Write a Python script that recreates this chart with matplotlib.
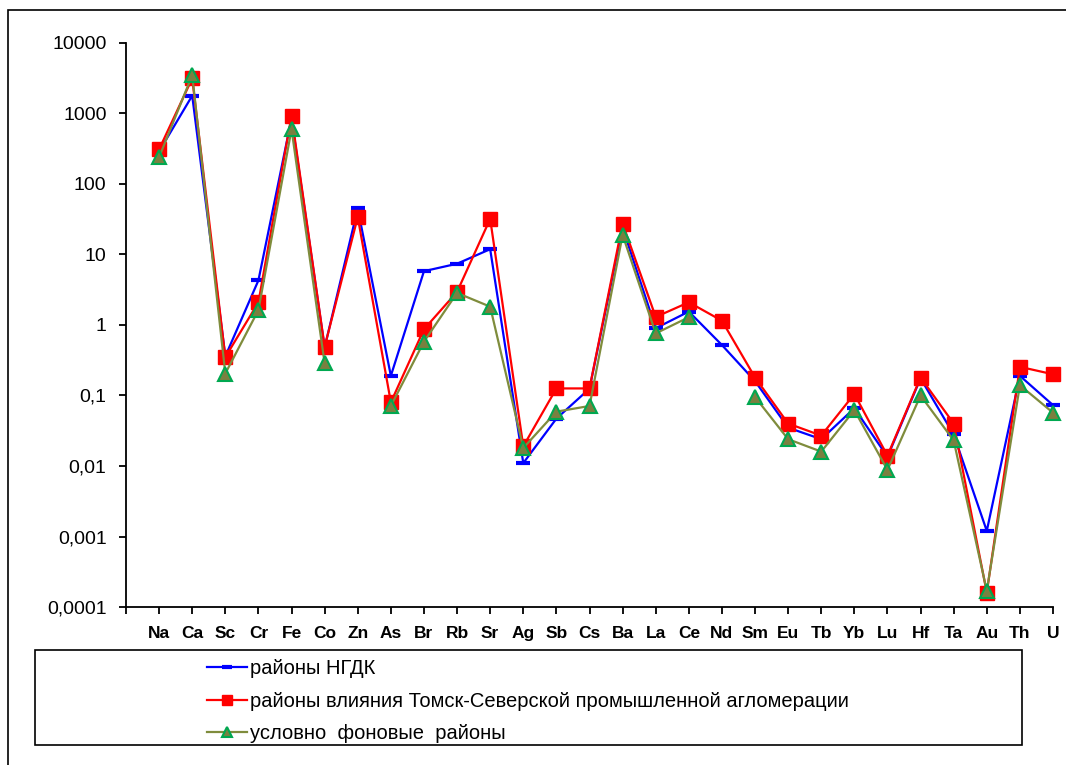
import numpy as np
import matplotlib
matplotlib.use("Agg")
import matplotlib.pyplot as plt
from matplotlib.patches import Rectangle

plt.rcParams['font.family'] = ['Liberation Sans', 'DejaVu Sans']

# elements along the x axis
elements = ['Na', 'Ca', 'Sc', 'Cr', 'Fe', 'Co', 'Zn', 'As', 'Br', 'Rb', 'Sr', 'Ag', 'Sb', 'Cs',
            'Ba', 'La', 'Ce', 'Nd', 'Sm', 'Eu', 'Tb', 'Yb', 'Lu', 'Hf', 'Ta', 'Au', 'Th', 'U']

# районы НГДК
ngdk = [290, 1790, 0.36, 4.3, 850, 0.48, 45, 0.19, 5.8, 7.4, 11.9, 0.011, 0.047, 0.125,
        24, 0.9, 1.55, 0.52, 0.16, 0.035, 0.024, 0.066, 0.0135, 0.175, 0.028, 0.0012, 0.19, 0.073]
# районы влияния Томск-Северской промышленной агломерации
tomsk = [310, 3150, 0.35, 2.1, 930, 0.49, 34, 0.08, 0.87, 2.95, 32, 0.019, 0.126, 0.126,
         27.5, 1.3, 2.1, 1.15, 0.18, 0.04, 0.027, 0.105, 0.014, 0.18, 0.04, 0.00016, 0.255, 0.2]
# условно фоновые районы (Zn, Nd not given)
background = [240, 3500, 0.205, 1.63, 600, 0.285, np.nan, 0.071, 0.58, 2.85, 1.82, 0.018, 0.059, 0.071,
              19, 0.76, 1.29, np.nan, 0.095, 0.024, 0.016, 0.062, 0.0088, 0.1, 0.023, 0.00017, 0.14, 0.057]

labels = ['районы НГДК',
          'районы влияния Томск-Северской промышленной агломерации',
          'условно  фоновые  районы']

yticks = [1e-4, 1e-3, 1e-2, 1e-1, 1, 10, 100, 1000, 10000]
ytick_labels = ['0,0001', '0,001', '0,01', '0,1', '1', '10', '100', '1000', '10000']

W, H = 1066, 765
fig = plt.figure(figsize=(W / 100, H / 100), dpi=100)
ax = fig.add_axes([126 / W, 1 - 607 / H, (1053 - 126) / W, (607 - 43) / H])

x = np.arange(len(elements))
l1, = ax.plot(x, ngdk, color='#0000ff', lw=1.6, marker='_', ms=9.5, mew=3, clip_on=False, zorder=3)
l2, = ax.plot(x, tomsk, color='#ff0000', lw=1.6, marker='s', ms=9.5, mec='#ff0000', clip_on=False, zorder=4)
l3, = ax.plot(x, background, color='#7f8c3c', lw=1.6, marker='^', ms=9.5, mfc='#7a8040',
              mec='#00a850', mew=1.5, clip_on=False, zorder=5)

ax.set_yscale('log')
ax.set_ylim(1e-4, 1e4)
ax.set_yticks(yticks)
ax.set_yticklabels(ytick_labels)
ax.minorticks_off()
ax.set_xlim(-1, len(elements) - 1)
ax.set_xticks(np.arange(-1, len(elements)))
ax.set_xticklabels([''] + elements, fontweight='bold', fontsize=12.5)

ax.spines['top'].set_visible(False)
ax.spines['right'].set_visible(False)
ax.spines['left'].set_linewidth(1.3)
ax.spines['bottom'].set_linewidth(1.3)
ax.tick_params(axis='y', length=5, width=1.3, pad=9, labelsize=14)
ax.tick_params(axis='x', length=5, width=1.3, pad=9)

# outer chart border
fig.patches.append(Rectangle((8 / W, -0.1), 1.2, 1 - 10 / H + 0.1, transform=fig.transFigure,
                             fill=False, ec='black', lw=1.2))
# legend box
fig.patches.append(Rectangle((35 / W, 1 - 745 / H), (1022 - 35) / W, (745 - 650) / H,
                             transform=fig.transFigure, fill=False, ec='black', lw=1.2))
fig.legend([l1, l2, l3], labels, loc='upper left', bbox_to_anchor=(197 / W, 1 - 649 / H),
           frameon=False, fontsize=14.5, handlelength=2.0, handletextpad=0.15, labelspacing=0.68,
           borderpad=0, markerscale=0.75)

fig.savefig('out.png', dpi=100)
